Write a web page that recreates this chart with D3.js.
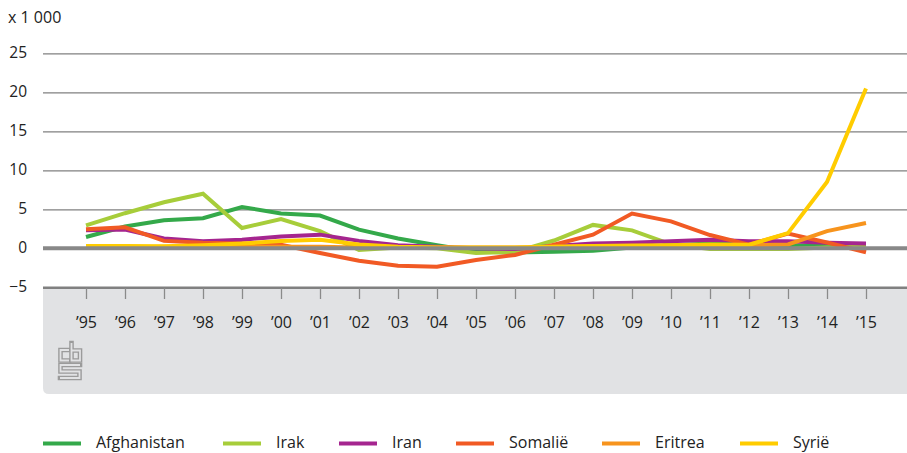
<!DOCTYPE html>
<html><head><meta charset="utf-8">
<script src="https://cdn.jsdelivr.net/npm/d3@7"></script>
<style>
body{margin:0;background:#fff}
svg{display:block}
text{font-family:"Open Sans",sans-serif}
</style>
</head><body>
<svg id="chart" width="907" height="453"></svg>
<script>
// ---- data (x 1 000) ----
const years = ["’95","’96","’97","’98","’99","’00","’01","’02","’03","’04","’05","’06","’07","’08","’09","’10","’11","’12","’13","’14","’15"];
const yTicks = [-5, 0, 5, 10, 15, 20, 25];
const yTickLabels = ["−5", "0", "5", "10", "15", "20", "25"];
const unitLabel = "x 1 000";

const afghanistan = [1.45, 2.8, 3.6, 3.85, 5.3, 4.45, 4.2, 2.4, 1.25, 0.4, -0.4, -0.55, -0.45, -0.3, 0.1, 0.4, 0.6, 0.5, 0.4, 0.3, 0.2];
const irak        = [2.95, 4.5, 5.9, 7.0, 2.6, 3.75, 2.2, -0.2, 0.1, 0.0, -0.6, -0.45, 1.0, 3.0, 2.3, 0.5, -0.1, -0.1, -0.1, 0.1, 0.2];
const iran        = [2.3, 2.4, 1.25, 0.9, 1.1, 1.5, 1.75, 0.95, 0.4, 0.2, 0.0, -0.1, 0.3, 0.6, 0.7, 0.9, 1.1, 0.9, 0.9, 0.7, 0.6];
const somalie     = [2.45, 2.7, 0.95, 0.7, 0.6, 0.45, -0.6, -1.6, -2.25, -2.35, -1.5, -0.85, 0.45, 1.75, 4.45, 3.45, 1.7, 0.45, 1.9, 0.75, -0.5];
const eritrea     = [0.1, 0.1, 0.2, 0.2, 0.2, 0.2, 0.2, 0.1, 0.1, 0.1, 0.1, 0.1, 0.2, 0.3, 0.3, 0.3, 0.3, 0.4, 0.5, 2.2, 3.25];
const syrie       = [0.3, 0.3, 0.25, 0.4, 0.6, 0.95, 1.1, 0.5, 0.2, 0.1, 0.1, 0.1, 0.2, 0.3, 0.35, 0.4, 0.5, 0.45, 1.95, 8.5, 20.5];

const seriesNames  = ["Afghanistan", "Irak", "Iran", "Somalië", "Eritrea", "Syrië"];
const seriesValues = [afghanistan, irak, iran, somalie, eritrea, syrie];
const seriesColors = ["#34a94a", "#a7cd3a", "#a5258f", "#f15a24", "#f7941d", "#ffcc00"];

// ---- layout ----
const svg = d3.select("#chart");
const left = 43, right = 907;
const x = d3.scalePoint().domain(years).range([86, 866]);
const y = d3.scaleLinear().domain([-5, 25]).range([287.3, 53.3]);

// bottom panel
svg.append("path")
  .attr("d", `M${left},287 H${right} V394 H${left+6} Q${left},394 ${left},388 Z`)
  .attr("fill", "#e1e2e4");

// y axis with gridlines
const yAxis = svg.append("g")
  .attr("transform", `translate(${left},0)`)
  .call(d3.axisLeft(y).tickValues(yTicks)
        .tickFormat((d, i) => yTickLabels[i])
        .tickSize(-(right - left)).tickPadding(16));
yAxis.select(".domain").remove();
yAxis.selectAll(".tick line")
  .attr("stroke", "#808080")
  .attr("stroke-width", d => d === -5 ? 2.4 : 1.2);
yAxis.selectAll(".tick text")
  .attr("fill", "#222").attr("font-size", 15.5).attr("dy", "0.25em");

// x axis
const xAxis = svg.append("g")
  .attr("transform", "translate(0,288)")
  .call(d3.axisBottom(x).tickSize(11).tickPadding(18));
xAxis.select(".domain").remove();
xAxis.selectAll(".tick line").attr("stroke", "#8a8a8a").attr("stroke-width", 1.3);
xAxis.selectAll(".tick text").attr("fill", "#222").attr("font-size", 16);

// unit label
svg.append("text").attr("x", 8).attr("y", 23)
  .attr("font-size", 16).attr("fill", "#222").text(unitLabel);

// series lines
const line = d3.line().x((d, i) => x(years[i])).y(d => y(d));
seriesValues.forEach((vals, k) => {
  svg.append("path").datum(vals)
    .attr("d", line)
    .attr("fill", "none")
    .attr("stroke", seriesColors[k])
    .attr("stroke-width", 4)
    .attr("stroke-linejoin", "miter");
});

// zero line on top
svg.append("line")
  .attr("x1", left).attr("x2", right)
  .attr("y1", y(0)).attr("y2", y(0))
  .attr("stroke", "#888888").attr("stroke-width", 4);

// CBS logo
const logo = svg.append("g").attr("transform", "translate(58,341)");
const logoPaths = [
  "M11 9 H2.5 V19.5 H11",
  "M13.5 2 V19.5 H22 V9.5 H13.5",
  "M22 24 H2.5 V30.5 H21.5 V37 H2"
];
logoPaths.forEach(p => {
  logo.append("path").attr("d", p).attr("fill", "none")
    .attr("stroke", "#9b9b9b").attr("stroke-width", 4.6).attr("stroke-linecap", "square");
});
logoPaths.forEach(p => {
  logo.append("path").attr("d", p).attr("fill", "none")
    .attr("stroke", "#e1e2e4").attr("stroke-width", 1.8).attr("stroke-linecap", "butt");
});

// legend
const legendX = [43, 223, 339, 456, 602, 740];
const lg = svg.append("g");
seriesNames.forEach((name, k) => {
  const g = lg.append("g").attr("transform", `translate(${legendX[k]},0)`);
  g.append("line").attr("x1", 0).attr("x2", 38).attr("y1", 443.5).attr("y2", 443.5)
    .attr("stroke", seriesColors[k]).attr("stroke-width", 4);
  g.append("text").attr("x", 53).attr("y", 447.5)
    .attr("font-size", 16).attr("fill", "#222").text(name);
});
</script>
</body></html>
